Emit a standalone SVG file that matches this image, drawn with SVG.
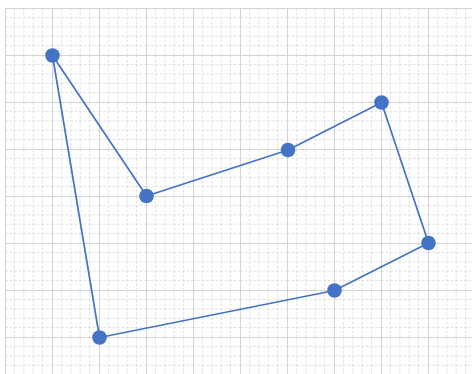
<svg xmlns="http://www.w3.org/2000/svg" width="472" height="374" viewBox="0 0 472 374">
  <defs>
    <style>
      .minor { stroke: #e2e2e2; stroke-width: 1; stroke-dasharray: 3 1.5; fill: none; }
      .major { stroke: #d4d4d4; stroke-width: 1; fill: none; }
      .edge { stroke: #4472C4; stroke-width: 1.7; fill: none; stroke-linejoin: round; }
      .pt { fill: #4472C4; }
    </style>
    <pattern id="grid" x="5" y="8" width="47" height="47" patternUnits="userSpaceOnUse">
      <path class="minor" d="M9.4 0V47M18.8 0V47M28.2 0V47M37.6 0V47M0 9.4H47M0 18.8H47M0 28.2H47M0 37.6H47"/>
      <path class="major" d="M0.5 0V47M0 0.5H47"/>
    </pattern>
  </defs>
  <rect width="472" height="374" fill="#ffffff"/>
  <rect x="5" y="8" width="467" height="366" fill="url(#grid)"/>
  <g id="connectors">
    <polygon class="edge" points="52.5,55.5 146.5,196 288,150 381.5,102.5 428.5,243 334.5,290.5 99.5,337.5"/>
  </g>
  <g id="p1"><circle class="pt" cx="52.5" cy="55.5" r="7.3"/></g>
  <g id="p2"><circle class="pt" cx="146.5" cy="196" r="7.3"/></g>
  <g id="p3"><circle class="pt" cx="288" cy="150" r="7.3"/></g>
  <g id="p4"><circle class="pt" cx="381.5" cy="102.5" r="7.3"/></g>
  <g id="p5"><circle class="pt" cx="428.5" cy="243" r="7.3"/></g>
  <g id="p6"><circle class="pt" cx="334.5" cy="290.5" r="7.3"/></g>
  <g id="p7"><circle class="pt" cx="99.5" cy="337.5" r="7.3"/></g>
</svg>
